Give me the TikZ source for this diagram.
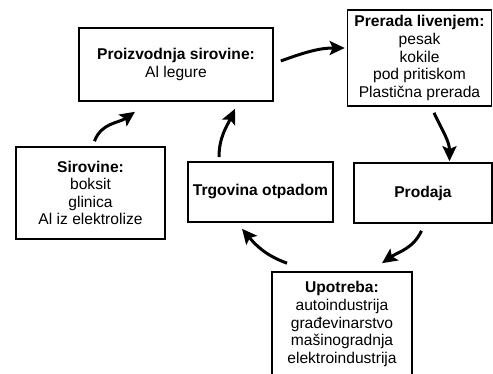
\documentclass[tikz,border=0pt]{standalone}
\usepackage{fontspec}
\setmainfont{Liberation Sans}
\usetikzlibrary{arrows.meta}
\begin{document}
\begin{tikzpicture}[x=1pt,y=1pt,
  box/.style={draw,line width=1.6pt,inner sep=0pt,align=center,
    font=\fontsize{15.6}{17.6}\selectfont},
  arr/.style={line width=3pt,-{Stealth[length=15pt,width=14pt,inset=3pt]}}]
\useasboundingbox (0,0) rectangle (493,374);
\node[box,minimum width=194,minimum height=73] (pro) at (176,309.5)
  {\textbf{Proizvodnja sirovine:}\\Al legure};
\node[box,minimum width=144,minimum height=96] (pre) at (419.5,316)
  {\textbf{Prerada livenjem:}\\pesak\\kokile\\pod pritiskom\\Plastična prerada};
\node[box,minimum width=149,minimum height=92] (sir) at (90.5,181)
  {\textbf{Sirovine:}\\boksit\\glinica\\Al iz elektrolize};
\node[box,minimum width=145,minimum height=60] (trg) at (260.5,182)
  {\textbf{Trgovina otpadom}};
\node[box,minimum width=138,minimum height=60] (prod) at (423,181)
  {\textbf{Prodaja}};
\node[box,minimum width=140,minimum height=104] (upo) at (342,50)
  {\textbf{Upotreba:}\\autoindustrija\\građevinarstvo\\mašinogradnja\\elektroindustrija};
\draw[arr] ([shift={(4,5)}]sir.north) to[out=70,in=215] ([shift={(-41,-10)}]pro.south);
\draw[arr] ([shift={(-41.5,4)}]trg.north) to[out=90,in=245] ([shift={(59,-7)}]pro.south);
\draw[arr] ([shift={(7,3.5)}]pro.east) to[out=20,in=180] ([shift={(-2,10)}]pre.west);
\draw[arr] ([shift={(14.5,-6)}]pre.south) to[out=-65,in=90] ([shift={(26.5,1)}]prod.north);
\draw[arr] ([shift={(-1.5,-7)}]prod.south) to[out=-115,in=35] ([shift={(40,8)}]upo.north);
\draw[arr] ([shift={(-55,8)}]upo.north) to[out=160,in=-50] ([shift={(-18.5,-6)}]trg.south);
\end{tikzpicture}
\end{document}
